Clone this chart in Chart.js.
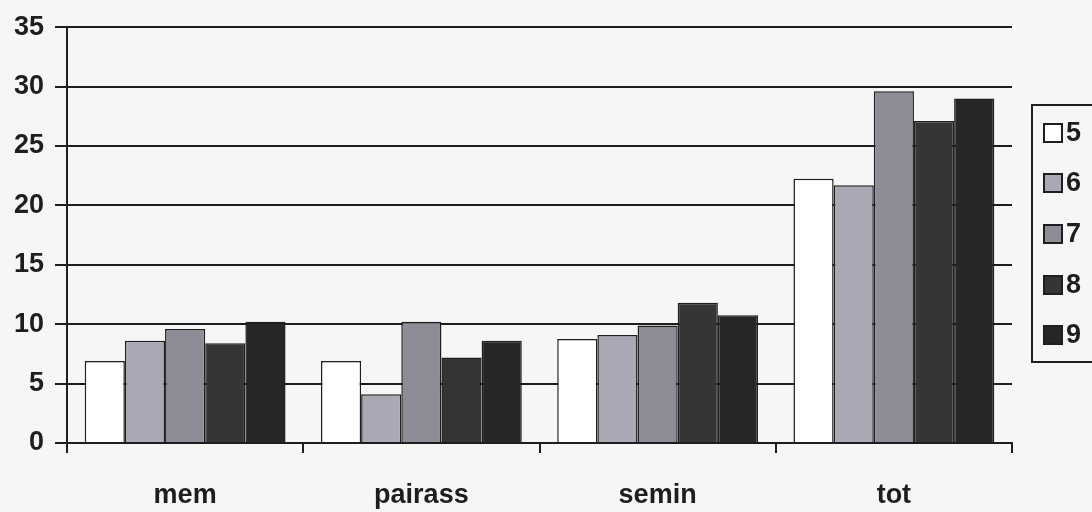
<!DOCTYPE html>
<html>
<head>
<meta charset="utf-8">
<script src="https://cdn.jsdelivr.net/npm/chart.js@4.4.1/dist/chart.umd.min.js"></script>
<style>
  html, body { margin: 0; padding: 0; background: #f6f6f6; }
  #wrap { width: 1092px; height: 512px; position: relative; }
</style>
</head>
<body>
<div id="wrap"><canvas id="c" width="1092" height="512"></canvas></div>
<script>
const categories = ["mem", "pairass", "semin", "tot"];
const seriesNames = ["5", "6", "7", "8", "9"];
const s5 = [6.9, 6.9, 8.75, 22.25];
const s6 = [8.6, 4.1, 9.1, 21.7];
const s7 = [9.6, 10.2, 9.9, 29.6];
const s8 = [8.4, 7.2, 11.8, 27.1];
const s9 = [10.2, 8.6, 10.75, 29.0];
const yTicks = [0, 5, 10, 15, 20, 25, 30, 35];

const seriesValues = [s5, s6, s7, s8, s9];
const fills = ["#ffffff", "#a9a9b5", "#8d8d97", "#353538", "#262629"];
const ink = "#1e1e1e";
const font = { family: "'Liberation Sans', Arial, sans-serif", size: 27, weight: "bold" };

const legendPlugin = {
  id: "boxLegend",
  afterDraw(chart) {
    const ctx = chart.ctx;
    ctx.save();
    ctx.lineWidth = 2;
    ctx.strokeStyle = ink;
    ctx.strokeRect(1032, 105, 100, 257);
    ctx.font = "bold 27px 'Liberation Sans', Arial, sans-serif";
    ctx.textBaseline = "middle";
    ctx.textAlign = "left";
    const centers = [133, 183, 234, 285, 335];
    seriesNames.forEach((n, i) => {
      const cy = centers[i];
      ctx.fillStyle = chart.data.datasets[i].backgroundColor;
      ctx.fillRect(1044, cy - 9, 18, 18);
      ctx.strokeRect(1044, cy - 9, 18, 18);
      ctx.fillStyle = ink;
      ctx.fillText(n, 1066, cy + 1);
    });
    ctx.restore();
  }
};

new Chart(document.getElementById("c"), {
  type: "bar",
  data: {
    labels: categories,
    datasets: seriesNames.map((n, i) => ({
      label: n,
      data: seriesValues[i],
      backgroundColor: fills[i],
      borderColor: ink,
      borderWidth: 1.5,
      categoryPercentage: 0.85,
      barPercentage: 1.0
    }))
  },
  options: {
    responsive: false,
    animation: false,
    layout: { padding: { top: 23, right: 80, left: 0, bottom: 0 } },
    plugins: { legend: { display: false }, tooltip: { enabled: false } },
    scales: {
      x: {
        offset: true,
        afterFit(s) { s.height = 69; },
        grid: {
          offset: true,
          drawOnChartArea: true,
          color: (c) => (c.index === categories.length ? ink : "rgba(0,0,0,0)"),
          tickColor: ink,
          tickLength: 10,
          lineWidth: 2
        },
        border: { display: true, color: ink, width: 2 },
        ticks: { color: ink, font: font, padding: 26 }
      },
      y: {
        min: 0,
        max: 35,
        afterFit(s) { s.width = 67; },
        afterBuildTicks(s) { s.ticks = yTicks.map(v => ({ value: v })); },
        grid: { color: ink, lineWidth: 2, tickLength: 12, tickColor: ink },
        border: { display: true, color: ink, width: 2 },
        ticks: { color: ink, font: font, padding: 11 }
      }
    }
  },
  plugins: [legendPlugin]
});
</script>
</body>
</html>
